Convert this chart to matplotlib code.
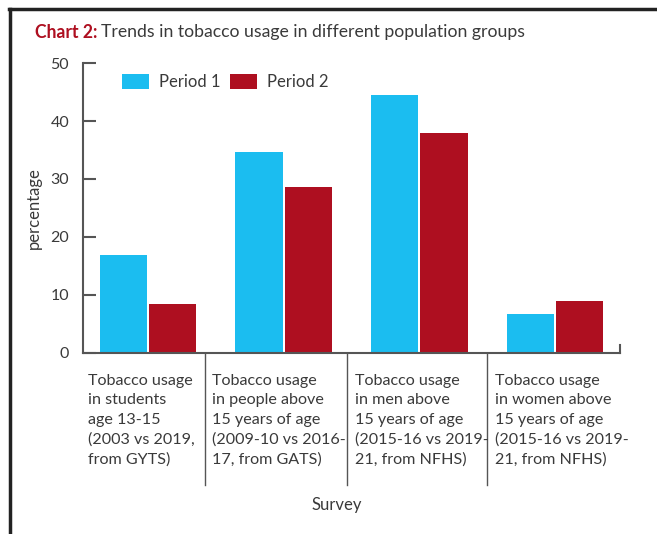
import numpy as np
import matplotlib.pyplot as plt
from matplotlib.lines import Line2D

# Data
groups = [
    "Tobacco usage\nin students\nage 13-15\n(2003 vs 2019,\nfrom GYTS)",
    "Tobacco usage\nin people above\n15 years of age\n(2009-10 vs 2016-\n17, from GATS)",
    "Tobacco usage\nin men above\n15 years of age\n(2015-16 vs 2019-\n21, from NFHS)",
    "Tobacco usage\nin women above\n15 years of age\n(2015-16 vs 2019-\n21, from NFHS)",
]
period1 = [16.9, 34.6, 44.5, 6.8]
period2 = [8.5, 28.6, 38.0, 8.9]
series_names = ["Period 1", "Period 2"]

BLUE = "#1bbdf0"
RED = "#ae0f20"
TEXT = "#3a3a3a"
AXIS = "#555555"

plt.rcParams['font.family'] = ['Lato', 'DejaVu Sans']

fig = plt.figure(figsize=(6.57, 5.34), dpi=100)
ax = fig.add_axes([0.1263, 0.339, 0.8174, 0.543])

x = np.arange(len(groups))
w = 0.35
ax.bar(x - 0.182, period1, w, color=BLUE, label=series_names[0])
ax.bar(x + 0.182, period2, w, color=RED, label=series_names[1])

ax.set_xlim(-0.48, 3.48)
ax.set_ylim(0, 50)
ax.set_yticks([0, 10, 20, 30, 40, 50])
ax.tick_params(axis='y', direction='in', length=9, width=1.5, color=AXIS,
               labelsize=11.5, labelcolor=TEXT, pad=10)
ax.set_xticks([])
for s in ['top', 'right']:
    ax.spines[s].set_visible(False)
for s in ['left', 'bottom']:
    ax.spines[s].set_color(AXIS)
    ax.spines[s].set_linewidth(1.5)

# small upward tick closing the x axis
ax.axvline(3.48, ymin=0, ymax=0.028, color=AXIS, lw=1.5, clip_on=False)

# separators between survey groups, running down through the labels
seps = [0.42, 1.47, 2.5]
for b in seps:
    ax.axvline(b, ymin=-0.455, ymax=0.0, color=AXIS, lw=1.0, clip_on=False)

# group labels under the axis, each starting just right of its separator
starts = [-0.44] + [b + 0.055 for b in seps]
for xs, g in zip(starts, groups):
    ax.text(xs, -0.072, g, transform=ax.get_xaxis_transform(),
            ha='left', va='top', fontsize=11.6, color=TEXT, linespacing=1.5)

ax.set_ylabel("percentage", fontsize=12, color=TEXT, labelpad=6)
fig.text(0.512, 0.054, "Survey", ha='center', va='center', fontsize=12, color=TEXT)

ax.legend(loc='upper left', bbox_to_anchor=(0.045, 1.015), ncol=2, frameon=False,
          fontsize=12, handlelength=1.6, handleheight=1.0, columnspacing=0.6,
          handletextpad=0.6, labelcolor=TEXT)

# title: bold red prefix followed by regular text
renderer = fig.canvas.get_renderer()
t1 = fig.text(0.053, 0.94, "Chart 2:", ha='left', va='center', fontsize=12.7,
              fontweight='bold', color=RED)
bb = t1.get_window_extent(renderer)
x2 = (bb.x1 + 4) / fig.bbox.width
fig.text(x2, 0.94, "Trends in tobacco usage in different population groups",
         ha='left', va='center', fontsize=12.7, color=TEXT)

# frame lines along the top and left edge
fig.add_artist(Line2D([0.013, 1.0], [0.983, 0.983], transform=fig.transFigure,
                      color="#222222", lw=2.5))
fig.add_artist(Line2D([0.015, 0.015], [0.0, 0.983], transform=fig.transFigure,
                      color="#222222", lw=2.5))

fig.savefig("out.png", dpi=100)
